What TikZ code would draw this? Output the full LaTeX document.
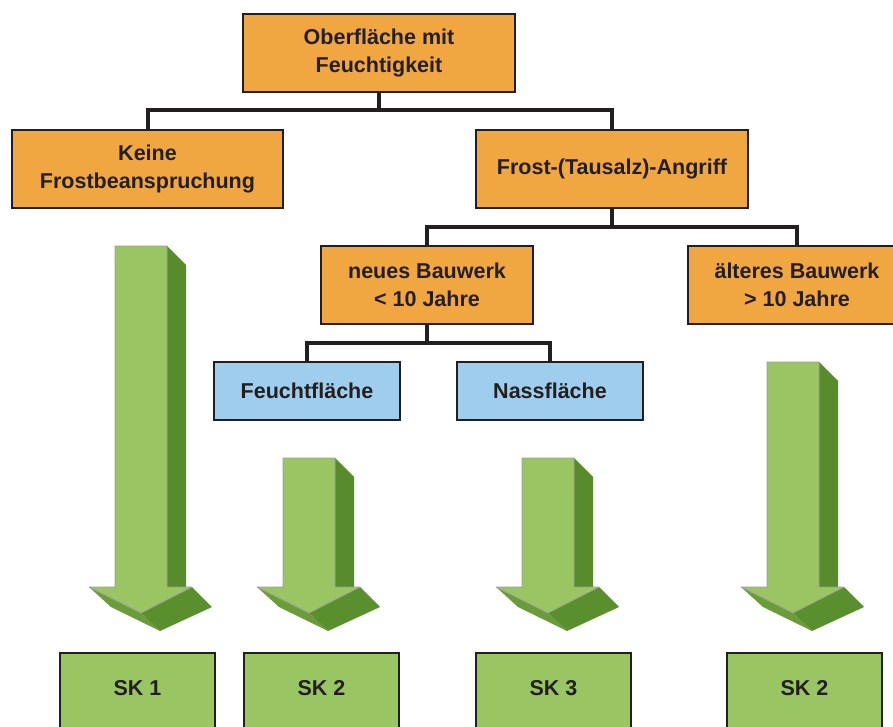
\documentclass[tikz,border=0pt]{standalone}
\usepackage{fontspec}
\setmainfont{Liberation Sans}
\definecolor{boxline}{HTML}{231F20}
\definecolor{textcol}{HTML}{231F20}
\definecolor{orangefill}{HTML}{F0A742}
\definecolor{bluefill}{HTML}{9FCDEE}
\definecolor{greenfront}{HTML}{9AC563}
\definecolor{greenside}{HTML}{578B2B}
\definecolor{greenleft}{HTML}{6A9D39}
\definecolor{greenright}{HTML}{5A8F2E}
\definecolor{frontedge}{HTML}{9C9E9A}
\newcommand\labelfont{\bfseries\fontsize{21.5}{28}\selectfont}
% 3D block arrow pointing down: #1 = left edge of the shaft, #2 = top of the shaft
\newcommand\greenarrowat[2]{%
  % side of the shaft
  \fill[greenside] ({#1+52},{#2}) -- ({#1+71},{#2+19}) -- ({#1+71},587) -- ({#1+52},587) -- cycle;
  % underside of the head, left and right half
  \fill[greenleft] ({#1-26},587) -- ({#1-4},607) -- ({#1+45},631) -- ({#1+26},613) -- cycle;
  \fill[greenright] ({#1+26},613) -- ({#1+45},631) -- ({#1+97},607) -- ({#1+77},587) -- cycle;
  % front face
  \filldraw[fill=greenfront, draw=frontedge, line width=0.8pt, line join=round]
    ({#1},{#2}) -- ({#1+52},{#2}) -- ({#1+52},587) -- ({#1+77},587)
    -- ({#1+26},613) -- ({#1-26},587) -- ({#1},587) -- cycle;
}
\begin{document}
\begin{tikzpicture}[x=1pt,y=-1pt,
  box/.style={draw=boxline, line width=2.4pt, inner sep=0pt, align=center,
    font=\labelfont, text=textcol},
  orangebox/.style={box, fill=orangefill, minimum height=78pt},
  bluebox/.style={box, fill=bluefill, minimum width=186pt, minimum height=58pt},
  skbox/.style={box, fill=greenfront, minimum width=155pt, minimum height=110pt, anchor=north},
  sklabel/.style={font=\labelfont, text=textcol, inner sep=0pt},
  link/.style={draw=boxline, line width=4pt}]
\useasboundingbox (0,0) rectangle (893,727);
\clip (0,0) rectangle (893,727);
\fill[white] (0,0) rectangle (893,727);

% decision tree
\node[orangebox, minimum width=272pt] (top) at (379,53) {Oberfläche mit\\Feuchtigkeit};
\node[orangebox, minimum width=271pt] (keine) at (147.5,169) {Keine\\Frostbeanspruchung};
\node[orangebox, minimum width=272pt] (frost) at (612,169) {Frost-(Tausalz)-Angriff};
\node[orangebox, minimum width=212pt] (neues) at (427,285) {neues Bauwerk\\\textless{} 10 Jahre};
\node[orangebox, minimum width=218pt] (aelter) at (797,285) {älteres Bauwerk\\\textgreater{} 10 Jahre};
\node[bluebox] (feucht) at (307,391) {Feuchtfläche};
\node[bluebox] (nass) at (550,391) {Nassfläche};

\coordinate (j1) at (379,110);
\coordinate (j2) at (612,227);
\coordinate (j3) at (427,343);
\draw[link] (top.south) -- (j1);
\draw[link] (keine.north) |- (j1) -| (frost.north);
\draw[link] (frost.south) -- (j2);
\draw[link] (neues.north) |- (j2) -| (aelter.north);
\draw[link] (neues.south) -- (j3);
\draw[link] (feucht.north) |- (j3) -| (nass.north);

% arrows to the exposure classes
\greenarrowat{115}{246}
\greenarrowat{283}{458}
\greenarrowat{522}{458}
\greenarrowat{767}{362}

% exposure classes
\node[skbox] (sk1) at (137.5,652) {};
\node[skbox] (sk2a) at (321.5,652) {};
\node[skbox] (sk3) at (553.5,652) {};
\node[skbox] (sk2b) at (804.5,652) {};
\node[sklabel] (t1) at (137.5,688) {SK 1};
\node[sklabel] (t2) at (321.5,688) {SK 2};
\node[sklabel] (t3) at (553.5,688) {SK 3};
\node[sklabel] (t4) at (804.5,688) {SK 2};
\end{tikzpicture}
\end{document}
